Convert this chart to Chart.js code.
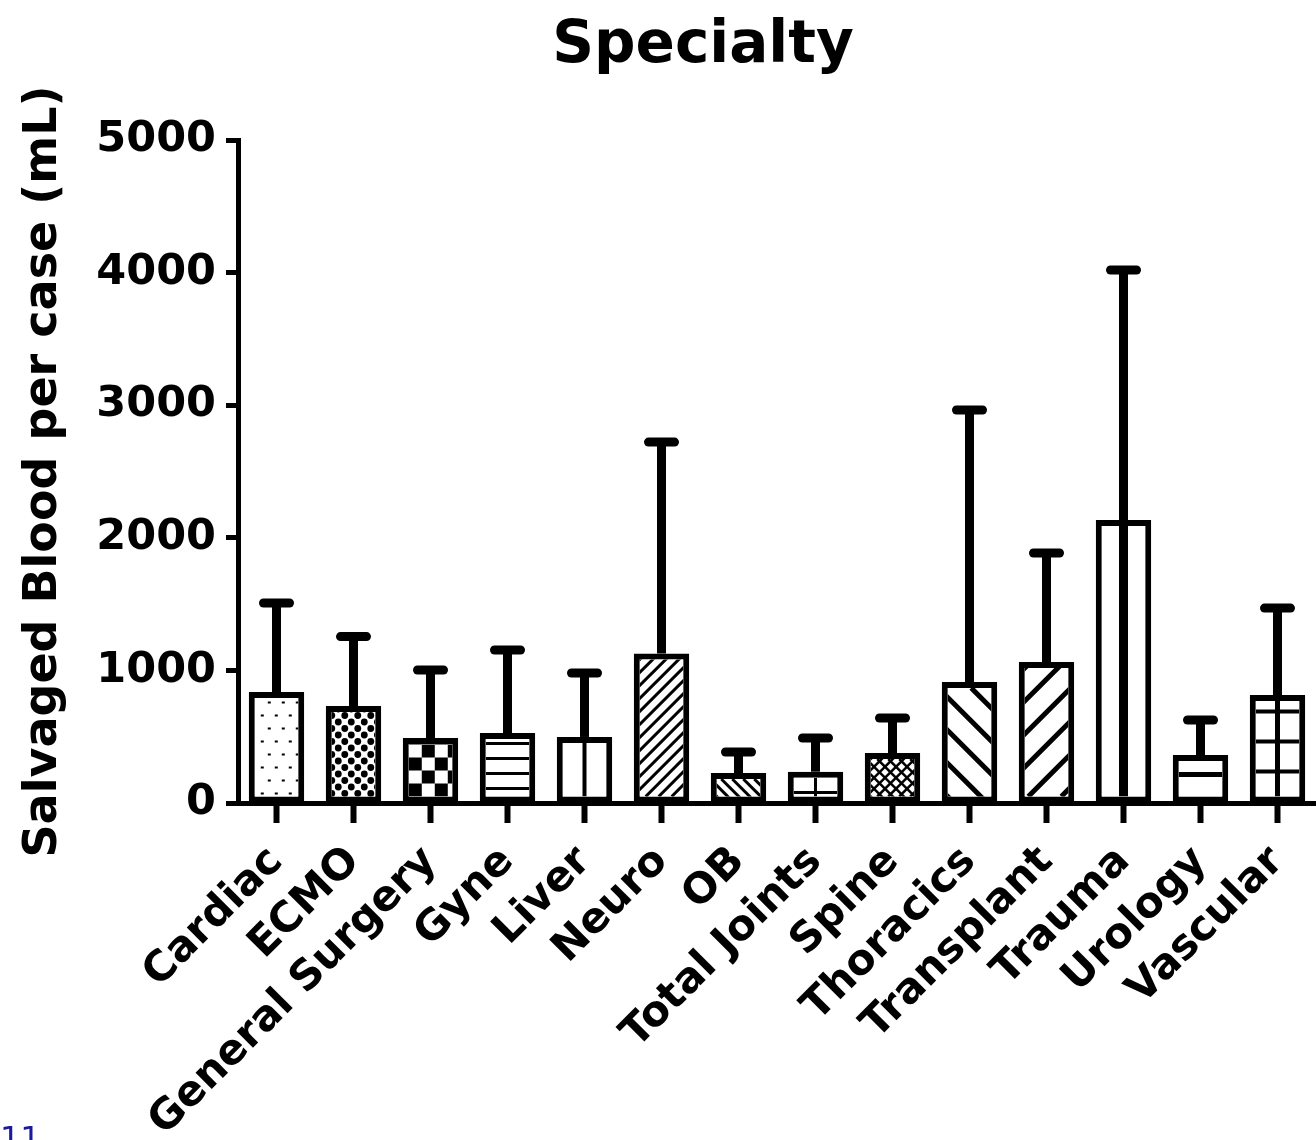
<!DOCTYPE html>
<html>
<head>
<meta charset="utf-8">
<script src="https://cdn.jsdelivr.net/npm/chart.js@4.4.0/dist/chart.umd.min.js"></script>
<style>
  html, body { margin: 0; padding: 0; background: #fff; }
  #wrap { width: 1316px; height: 1140px; position: relative; }
</style>
</head>
<body>
<div id="wrap"><canvas id="specialty_chart"></canvas></div>
<script>
// values (mean and upper SD of salvaged blood, mL)
var labels = ["Cardiac", "ECMO", "General Surgery", "Gyne", "Liver", "Neuro", "OB",
              "Total Joints", "Spine", "Thoracics", "Transplant", "Trauma", "Urology", "Vascular"];
var mean_ml = [837, 731, 490, 528, 498, 1128, 226, 236, 377, 913, 1063, 2134, 362, 814];
var sd_ml = [671, 524, 513, 626, 482, 1594, 159, 254, 264, 2051, 822, 1886, 264, 656];
var y_ticks = [0, 1000, 2000, 3000, 4000, 5000];
var fills = ["dots", "circles", "checker", "hlines", "vline", "diag", "backdiag",
             "tjoint", "crosshatch", "wideback", "widediag", "vthick", "hmid", "grid"];

var FONT = "'DejaVu Sans', sans-serif";
Chart.defaults.font.family = FONT;
Chart.defaults.color = "#000";

var BW = 6;

function line(ctx, x1, y1, x2, y2) {
  ctx.beginPath(); ctx.moveTo(x1, y1); ctx.lineTo(x2, y2); ctx.stroke();
}

function drawFill(ctx, kind, l, t, r, b) {
  var w = r - l, h = b - t, cx = (l + r) / 2, i, j, k;
  ctx.save();
  ctx.beginPath(); ctx.rect(l, t, w, h); ctx.clip();
  ctx.fillStyle = "#000"; ctx.strokeStyle = "#000";
  if (kind == "dots") {
    for (j = 0, k = b - 4; k > t; k -= 13, j++)
      for (i = l + 6 + (j % 2) * 7; i < r; i += 14) ctx.fillRect(i, k, 3, 2);
  } else if (kind == "circles") {
    for (j = 0, k = b - 3; k > t - 6; k -= 6.5, j++)
      for (i = l + (j % 2) * 6.5; i < r + 6; i += 13) {
        ctx.beginPath(); ctx.arc(i, k, 3.4, 0, Math.PI * 2); ctx.fill();
      }
  } else if (kind == "checker") {
    for (j = 0, k = b; k > t - 13; k -= 13, j++)
      for (i = l + (j % 2) * 13; i < r; i += 26) ctx.fillRect(i, k - 13, 13, 13);
  } else if (kind == "hlines") {
    ctx.lineWidth = 3;
    for (k = b - 8; k > t; k -= 15) line(ctx, l, k, r, k);
  } else if (kind == "vline") {
    ctx.lineWidth = 4; line(ctx, cx, t, cx, b);
  } else if (kind == "diag" || kind == "backdiag" || kind == "crosshatch") {
    ctx.lineWidth = kind == "crosshatch" ? 2.5 : 3;
    var s = kind == "diag" ? 13 : 11;
    for (k = -h - s; k < w + h; k += s) {
      if (kind != "backdiag") line(ctx, l + k, b, l + k + h + 20, b - h - 20);
      if (kind != "diag") line(ctx, l + k, t, l + k + h + 20, t + h + 20);
    }
  } else if (kind == "wideback" || kind == "widediag") {
    ctx.lineWidth = 5;
    for (k = -h - 33; k < w + h; k += 33) {
      if (kind == "widediag") line(ctx, l + k, b, l + k + h + 30, b - h - 30);
      else line(ctx, l + k, t, l + k + h + 30, t + h + 30);
    }
  } else if (kind == "tjoint") {
    ctx.lineWidth = 3;
    line(ctx, cx, t, cx, b);
    line(ctx, l, b - 4, r, b - 4);
  } else if (kind == "vthick") {
    ctx.lineWidth = 9; line(ctx, cx, t, cx, b);
  } else if (kind == "hmid") {
    ctx.lineWidth = 5;
    for (k = b - 22; k > t; k -= 28) line(ctx, l, k, r, k);
  } else if (kind == "grid") {
    ctx.lineWidth = 5; line(ctx, cx, t, cx, b);
    ctx.lineWidth = 4;
    for (k = b - 25; k > t; k -= 30) line(ctx, l, k, r, k);
  }
  ctx.restore();
}

const barDecor = {
  id: "barDecor",
  afterDatasetsDraw(chart) {
    const ctx = chart.ctx, y = chart.scales.y;
    const meta = chart.getDatasetMeta(0);
    meta.data.forEach((bar, i) => {
      const p = bar.getProps(["x", "y", "base", "width"], true);
      const l = p.x - p.width / 2, r = p.x + p.width / 2;
      drawFill(ctx, fills[i], l + BW, p.y + BW, r - BW, p.base - BW);
      // upper error bar
      const yTop = y.getPixelForValue(mean_ml[i] + sd_ml[i]);
      ctx.save();
      ctx.strokeStyle = "#000";
      ctx.lineWidth = 9;
      ctx.lineCap = "butt";
      line(ctx, p.x, p.y, p.x, yTop);
      ctx.lineCap = "round";
      line(ctx, p.x - 13, yTop, p.x + 13, yTop);
      ctx.restore();
    });
  },
  afterDraw(chart) {
    const ctx = chart.ctx;
    ctx.save();
    ctx.fillStyle = "#000";
    ctx.font = "bold 58px " + FONT;
    ctx.textAlign = "center";
    ctx.textBaseline = "alphabetic";
    ctx.fillText("Specialty", 703, 62);
    ctx.fillStyle = "#1a1a9c";
    ctx.font = "32px " + FONT;
    ctx.textAlign = "left";
    ctx.textBaseline = "top";
    ctx.fillText("11", 0, 1125);
    ctx.restore();
  }
};

const ctx = document.getElementById("specialty_chart").getContext("2d");
const chart = new Chart(ctx, {
  type: "bar",
  data: {
    labels: labels,
    datasets: [{
      data: mean_ml,
      backgroundColor: "#fff",
      borderColor: "#000",
      borderWidth: BW,
      borderSkipped: false,
      categoryPercentage: 1,
      barPercentage: 0.72
    }]
  },
  options: {
    responsive: true,
    maintainAspectRatio: false,
    animation: false,
    layout: { padding: { top: 140, right: 0, bottom: 0, left: 0 } },
    plugins: { legend: { display: false }, tooltip: { enabled: false }, title: { display: false } },
    scales: {
      x: {
        offset: true,
        border: { color: "#000", width: 5 },
        grid: { offset: false, drawOnChartArea: false, drawTicks: true, tickLength: 20, tickWidth: 6, tickColor: "#000" },
        ticks: { autoSkip: false, minRotation: 45, maxRotation: 45, padding: 14,
                 font: { size: 42, weight: "bold" }, color: "#000" },
        afterFit: function (s) { s.height = 337; s.paddingLeft = 0; s.paddingRight = 0; }
      },
      y: {
        min: 0, max: 5000,
        border: { color: "#000", width: 5 },
        grid: { drawOnChartArea: false, drawTicks: true, tickLength: 12, tickWidth: 5, tickColor: "#000" },
        ticks: { padding: 10, font: { size: 43, weight: "bold" }, color: "#000",
                 callback: function (v) { return String(v); } },
        afterBuildTicks: function (s) { s.ticks = y_ticks.map(v => ({ value: v })); },
        title: { display: true, text: "Salvaged Blood per case (mL)", color: "#000",
                 font: { size: 46, weight: "bold" }, padding: { top: 16, bottom: 0 } },
        afterFit: function (s) { s.width = 238; s.paddingTop = 0; s.paddingBottom = 0; }
      }
    }
  },
  plugins: [barDecor]
});
</script>
</body>
</html>
